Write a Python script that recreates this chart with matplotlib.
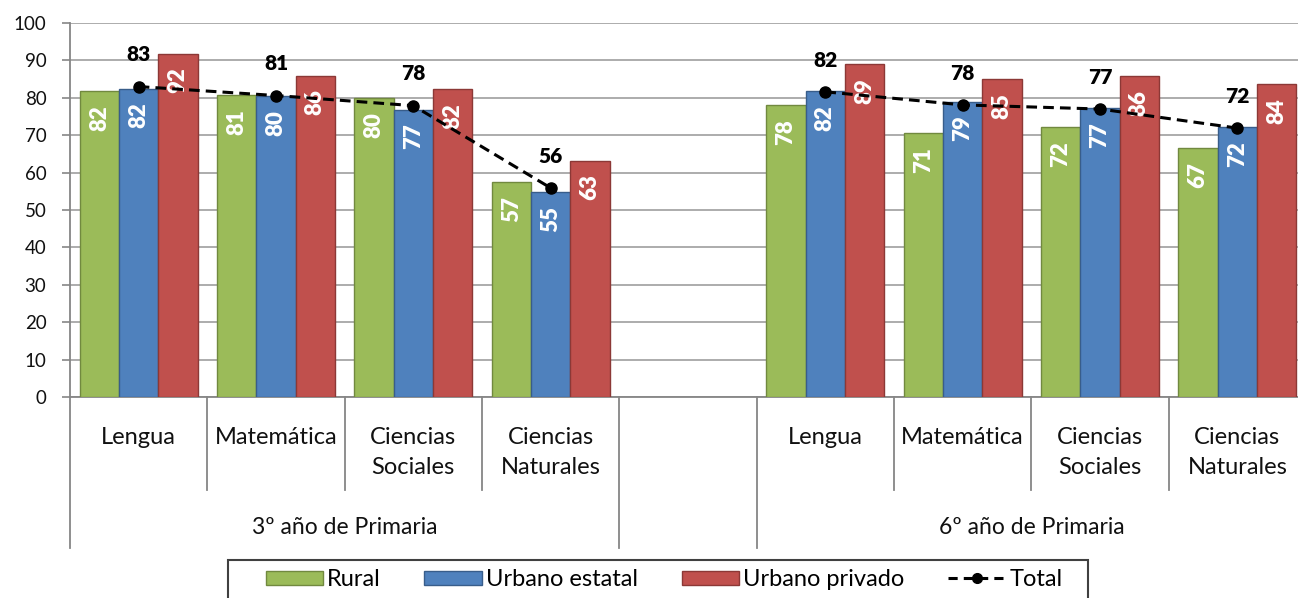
import numpy as np
import matplotlib
matplotlib.use("Agg")
import matplotlib.pyplot as plt
from matplotlib.lines import Line2D
from matplotlib.patches import Patch, Rectangle
import matplotlib.transforms as mtransforms

plt.rcParams['font.family'] = ['Lato', 'DejaVu Sans']

subjects = ['Lengua', 'Matemática', 'Ciencias\nSociales', 'Ciencias\nNaturales']
grades = ['3º año de Primaria', '6º año de Primaria']
series = ['Rural', 'Urbano estatal', 'Urbano privado']

rural_3 = [81.8, 80.7, 79.9, 57.4]
estatal_3 = [82.4, 80.4, 76.8, 54.9]
privado_3 = [91.8, 85.9, 82.3, 63.2]
total_3 = [83.0, 80.6, 77.9, 55.9]

rural_6 = [78.1, 70.6, 72.2, 66.6]
estatal_6 = [81.8, 79.0, 77.2, 72.2]
privado_6 = [89.0, 84.9, 85.8, 83.6]
total_6 = [81.6, 78.1, 77.0, 71.9]

colors = ['#9BBB59', '#4F81BD', '#C0504D']
edges = ['#71893F', '#385D8A', '#8C3836']

# slot positions: 4 subjects, one empty slot, 4 subjects
pos_3 = np.arange(4)
pos_6 = np.arange(5, 9)
x = np.concatenate([pos_3, pos_6])
data = [rural_3 + rural_6, estatal_3 + estatal_6, privado_3 + privado_6]

W, H = 1298, 598
fig = plt.figure(figsize=(W / 100, H / 100), dpi=100)
ax = fig.add_axes([70 / W, (H - 397) / H, (1306 - 70) / W, (397 - 23) / H])

bw = 0.286
for i, vals in enumerate(data):
    xs = x + (i - 1) * bw
    ax.bar(xs, vals, width=bw, color=colors[i], edgecolor=edges[i],
           linewidth=1.0, zorder=3)
    for xi, v in zip(xs, vals):
        ax.annotate(f"{v:.0f}", (xi, v), xytext=(0, -10), textcoords='offset points',
                    ha='center', va='top', rotation=90, color='white',
                    fontsize=16, fontweight='heavy', zorder=5)

for pos, tot in [(pos_3, total_3), (pos_6, total_6)]:
    ax.plot(pos, tot, color='black', ls=(0, (3.5, 2)), lw=2.2, marker='o',
            markersize=8, zorder=6)
    for xi, v in zip(pos, tot):
        ax.annotate(f"{v:.0f}", (xi, v), xytext=(0, 16), textcoords='offset points',
                    ha='center', va='bottom', color='black',
                    fontsize=15, fontweight='heavy', zorder=7)

ax.set_xlim(-0.5, 8.5)
ax.set_ylim(0, 100)
ax.set_yticks(np.arange(0, 101, 10))
ax.yaxis.grid(True, color='#a6a6a6', lw=1.3, zorder=0)
ax.set_axisbelow(True)
ax.set_xticks([])
for s in ['top', 'right']:
    ax.spines[s].set_visible(False)
for s in ['left', 'bottom']:
    ax.spines[s].set_color('#868686')
    ax.spines[s].set_linewidth(1.3)
ax.tick_params(axis='y', length=6, width=1.2, color='#868686', pad=11,
               labelsize=13.5, labelcolor='#111111')

# multi-level category axis
tr = mtransforms.blended_transform_factory(ax.transData, ax.transAxes)
short_y = -(490 - 397) / 374
long_y = -(548 - 397) / 374
for b in [0.5, 1.5, 2.5, 5.5, 6.5, 7.5]:
    ax.plot([b, b], [0, short_y], transform=tr, color='#868686', lw=1.3, clip_on=False)
for b in [-0.5, 3.5, 4.5, 8.5]:
    ax.plot([b, b], [0, long_y], transform=tr, color='#868686', lw=1.3, clip_on=False)

lab_y = -(427 - 397) / 374
for pos in (pos_3, pos_6):
    for xi, name in zip(pos, subjects):
        ax.text(xi, lab_y, name, transform=tr, ha='center', va='top',
                fontsize=17, color='#111111', linespacing=1.5)
grp_y = -(528 - 397) / 374
for xc, g in zip([1.5, 6.5], grades):
    ax.text(xc, grp_y, g, transform=tr, ha='center', va='center',
            fontsize=16.5, color='#111111')

handles = [Patch(facecolor=colors[i], edgecolor=edges[i], label=series[i]) for i in range(3)]
handles.append(Line2D([], [], color='black', ls=(0, (3, 2)), lw=2.2, marker='o',
                      markersize=7, label='Total'))
leg = fig.legend(handles=handles, loc='upper center', bbox_to_anchor=(664 / W, 1 - 562 / H),
                 ncol=4, frameon=False, fontsize=17, borderaxespad=0,
                 handlelength=2.45, handleheight=0.55, handletextpad=0.15,
                 columnspacing=1.85, borderpad=0.3)
# legend box, wider than the entries as in the original
fig.add_artist(Rectangle((228 / W, -0.05), (1088 - 228) / W, 0.05 + (H - 560) / H,
                         transform=fig.transFigure, fill=False,
                         edgecolor='#404040', lw=1.5))

fig.savefig('out.png', dpi=100)
